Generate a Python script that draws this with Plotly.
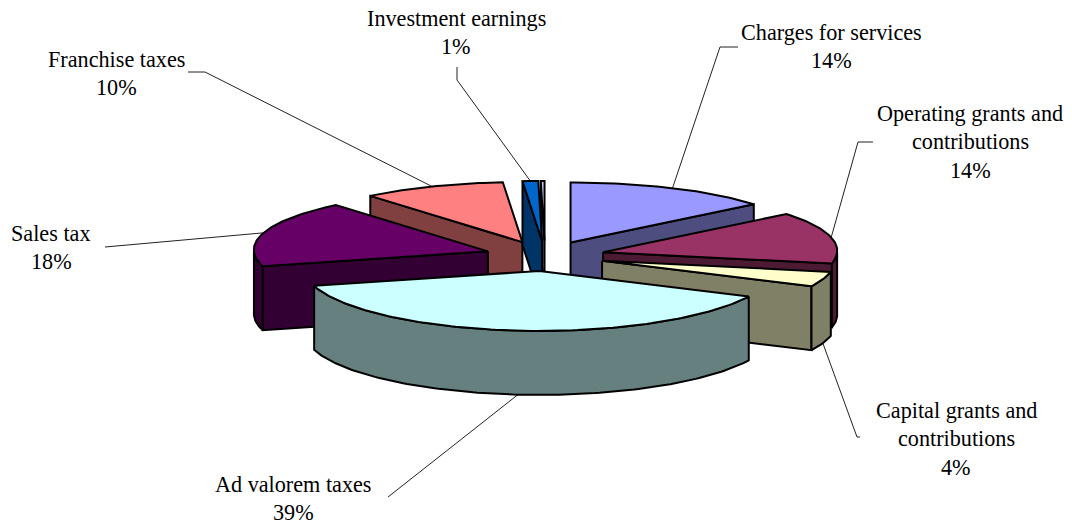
import math
import plotly.graph_objects as go

# ---- data ----
categories = ["Charges for services", "Operating grants and|contributions",
              "Capital grants and|contributions", "Ad valorem taxes",
              "Sales tax", "Franchise taxes", "Investment earnings", None]
values = [14, 14, 4, 39, 18, 9.7, 1.05, 0.25]

# ---- styles and layout of the drawing ----
top_colors = ["#9999FF", "#993366", "#FFFFCC", "#CCFFFF", "#660066", "#FF8080", "#0066CC", "#CCCCFF"]
side_colors = ["#4D4D80", "#4D1A33", "#808066", "#668080", "#330033", "#804040", "#003366", "#666680"]
paint_order = [0, 5, 4, 7, 6, 1, 2, 3]
CX, CY = 545, 256       # pie centre
EXPLODE = 60            # explosion distance
RX_MEAN, RX_VAR = 234, 6
RY, DEPTH = 60, 64
FONT = "Liberation Serif"
FSIZE = 22.2
PITCH = 28.5
OUTLINE = 2
label_pos = {0: (831, 32), 1: (970, 113), 2: (956, 410), 3: (293, 484),
             4: (51, 233), 5: (116, 59), 6: (456, 18)}
elbow = {0: [(738, 47), (720, 47)], 1: [(873, 142), (858, 142)], 2: [(860, 437), (857, 437)],
         3: [(388, 497), (388, 497)], 4: [(105, 247), (105, 247)], 5: [(188, 72), (205, 72)],
         6: [(457, 67), (457, 80)]}

total = sum(values)
fig = go.Figure()


def rim(apex, th):
    rx = RX_MEAN + RX_VAR * math.cos(th)
    return apex[0] + rx * math.sin(th), apex[1] - RY * math.cos(th)


def arc(apex, a, b):
    n = max(2, int(abs(b - a) / 0.02))
    return [rim(apex, a + (b - a) * k / n) for k in range(n + 1)]


def poly(points, fill, lw=OUTLINE):
    fig.add_trace(go.Scatter(x=[p[0] for p in points] + [points[0][0]],
                             y=[p[1] for p in points] + [points[0][1]],
                             mode="lines", fill="toself", fillcolor=fill,
                             line=dict(color="black", width=lw, shape="linear"),
                             hoverinfo="skip", showlegend=False))


def down(p):
    return (p[0], p[1] + DEPTH)


# compute slices from the values
slices = []
acc = 0
for v in values:
    a = 2 * math.pi * acc / total
    b = 2 * math.pi * (acc + v) / total
    m = (a + b) / 2
    apex = (CX + EXPLODE * math.sin(m), CY - EXPLODE * 0.25 * math.cos(m))
    slices.append((a, b, m, apex))
    acc += v

# leader lines, behind the pie
for i, (a, b, m, apex) in enumerate(slices):
    if categories[i] is None:
        continue
    end = rim(apex, m)
    if math.cos(m) < -0.2:
        end = down(end)
    pts = elbow[i] + [end]
    fig.add_trace(go.Scatter(x=[p[0] for p in pts], y=[p[1] for p in pts], mode="lines",
                             line=dict(color="#222222", width=1),
                             hoverinfo="skip", showlegend=False))

# slices, back to front
for i in paint_order:
    a, b, m, apex = slices[i]
    top, side = top_colors[i], side_colors[i]
    if math.sin(a) < -1e-6:     # start cut faces the viewer
        r = rim(apex, a)
        poly([apex, r, down(r), down(apex)], side)
    if math.sin(b) > 1e-6:      # end cut faces the viewer
        r = rim(apex, b)
        poly([apex, r, down(r), down(apex)], side)
    lo, hi = max(a, math.pi / 2), min(b, 3 * math.pi / 2)
    if hi > lo:                 # outer wall
        pts = arc(apex, lo, hi)
        poly(pts + [down(p) for p in reversed(pts)], side)
    poly([apex] + arc(apex, a, b), top)

# labels
annotations = []
for i, name in enumerate(categories):
    if name is None:
        continue
    lines = name.split("|") + [f"{round(100 * values[i] / total)}%"]
    x, y = label_pos[i]
    for k, line in enumerate(lines):
        annotations.append(dict(x=x, y=y + k * PITCH, text=line, showarrow=False,
                                xanchor="center", yanchor="middle", xref="x", yref="y",
                                font=dict(family=FONT, size=FSIZE, color="black")))

fig.update_layout(
    width=1072, height=527, margin=dict(l=0, r=0, t=0, b=0),
    paper_bgcolor="white", plot_bgcolor="white", showlegend=False,
    annotations=annotations,
    xaxis=dict(range=[0, 1072], visible=False, fixedrange=True),
    yaxis=dict(range=[527, 0], visible=False, fixedrange=True),
)
fig.write_html("out.html", config={"displayModeBar": False},
               post_script="document.body.style.margin='0';document.body.style.overflow='hidden';")
